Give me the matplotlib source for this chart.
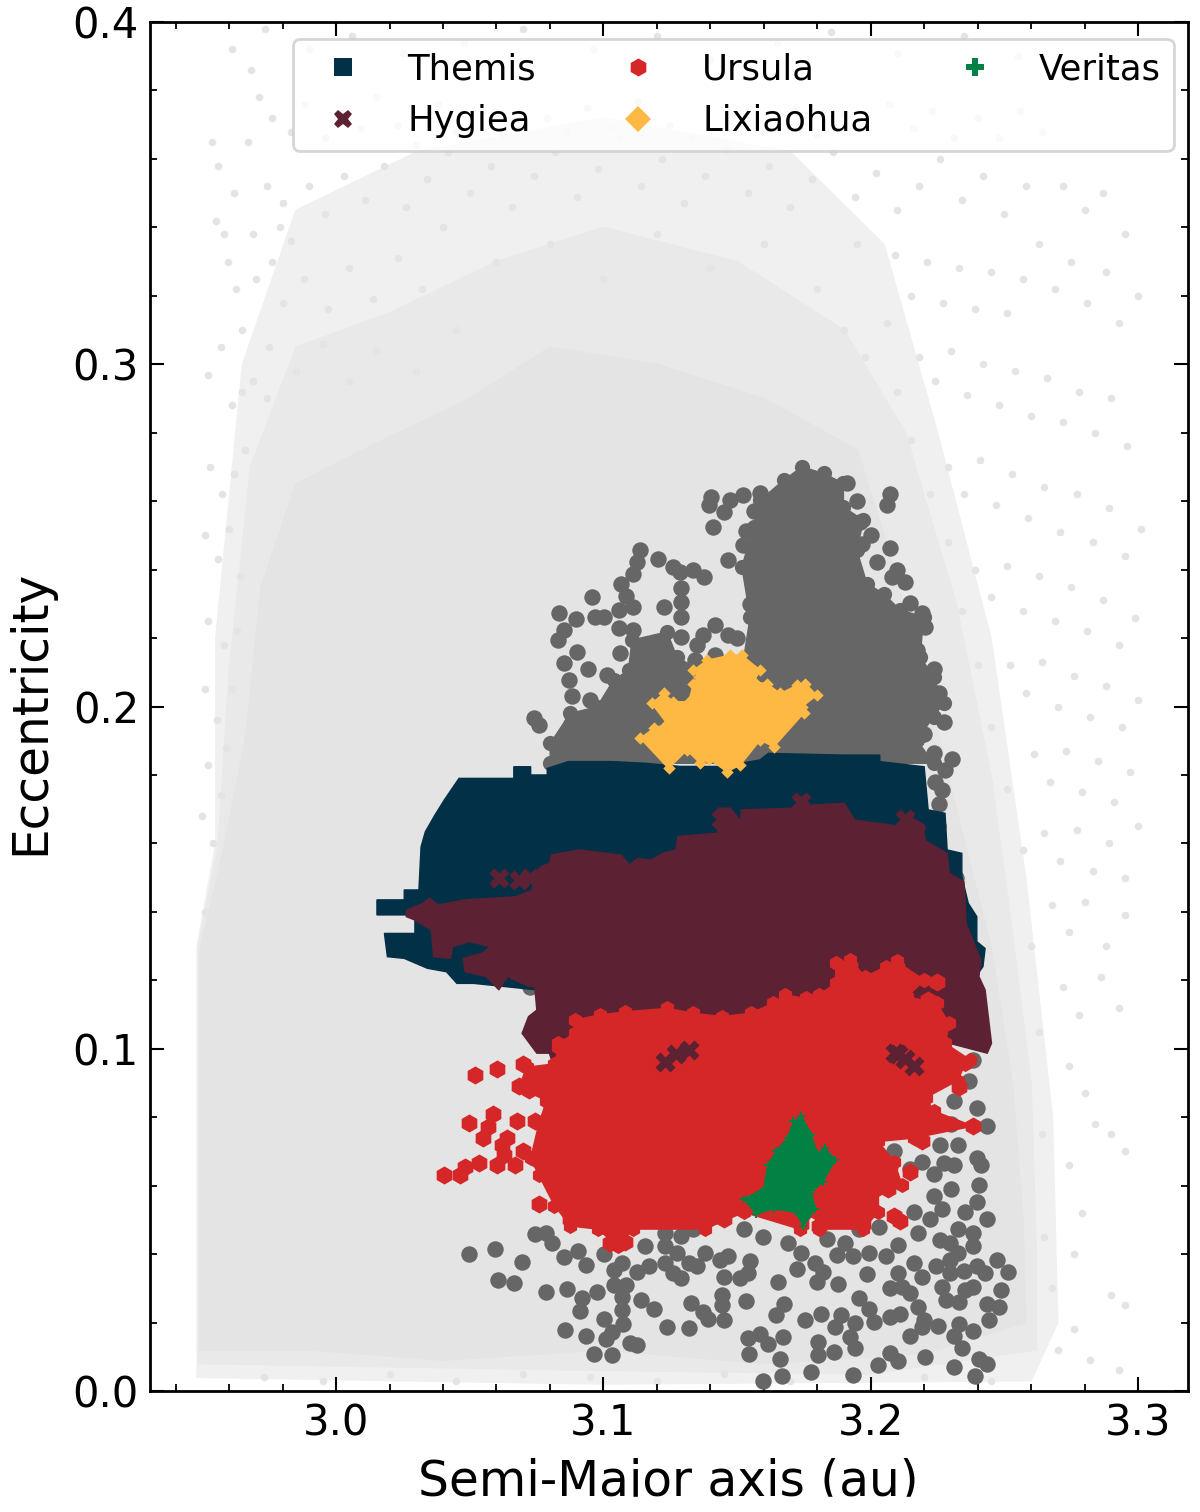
import matplotlib
matplotlib.use('Agg')
import matplotlib.pyplot as plt
from matplotlib.lines import Line2D
from matplotlib.patches import Rectangle
from matplotlib.ticker import MultipleLocator

# colours
c_bg = '#e4e4e4'
c_mid = '#e9e9e9'
c_halo = '#f0f0f0'
c_grey = '#666666'
c_themis = '#023047'
c_hygiea = '#5c2133'
c_ursula = '#d62728'
c_lixiaohua = '#fdb944'
c_veritas = '#028144'

# main belt background: dense core, middle band and thinner halo outlines (a, e)
bg_core = [(2.9491,0.012),(2.9491,0.129),(2.957,0.155),(2.966,0.19),(2.972,0.235),(2.985,0.265),(3.01,0.275),
           (3.05,0.29),(3.08,0.305),(3.12,0.30),(3.16,0.29),(3.195,0.275),(3.205,0.25),(3.22,0.21),(3.232,0.17),
           (3.245,0.13),(3.253,0.09),(3.257,0.05),(3.258,0.02),(3.22,0.011),(3.16,0.008),(3.10,0.012),(3.04,0.009),(2.99,0.012)]
bg_mid = [(2.9485,0.008),(2.9485,0.13),(2.956,0.16),(2.96,0.21),(2.968,0.27),(2.985,0.305),(3.02,0.315),(3.06,0.33),
          (3.10,0.34),(3.15,0.33),(3.19,0.31),(3.213,0.28),(3.232,0.23),(3.245,0.18),(3.252,0.14),(3.26,0.09),
          (3.262,0.04),(3.262,0.012),(3.2,0.005),(3.1,0.006)]
bg_halo = [(2.948,0.004),(2.948,0.13),(2.955,0.16),(2.955,0.22),(2.965,0.30),(2.985,0.345),(3.03,0.362),(3.10,0.372),
           (3.17,0.362),(3.205,0.335),(3.225,0.28),(3.245,0.22),(3.258,0.15),(3.268,0.08),(3.27,0.02),(3.26,0.003),(3.1,0.002)]

# scattered background asteroids, estimated by eye
bg_dots = [(2.9536,0.365),(2.9560,0.358),(2.9612,0.392),(2.9680,0.386),(2.9550,0.342),(2.9596,0.330),(2.9625,0.322),
    (2.9570,0.305),(2.9520,0.297),(2.9610,0.288),(2.9650,0.292),(2.9530,0.270),(2.9575,0.262),(2.9620,0.268),
    (2.9510,0.250),(2.9560,0.243),(2.9600,0.252),(2.9640,0.238),(2.9520,0.225),(2.9580,0.218),(2.9510,0.205),
    (2.9555,0.196),(2.9610,0.205),(2.9520,0.183),(2.9570,0.174),(2.9500,0.168),(2.9540,0.160),(2.9590,0.188),
    (2.9735,0.398),(2.9900,0.392),(3.0060,0.396),(3.0250,0.391),(3.0480,0.394),(3.0700,0.398),(3.0960,0.392),
    (3.1200,0.396),(3.1400,0.389),(3.1650,0.394),(3.1850,0.397),(3.2100,0.391),(3.2350,0.396),(3.2550,0.390),
    (2.9710,0.378),(2.9670,0.365),(2.9740,0.352),(2.9800,0.347),(2.9690,0.338),(2.9760,0.330),(2.9830,0.336),
    (2.9900,0.352),(2.9960,0.344),(3.0030,0.355),(3.0110,0.348),(3.0180,0.358),(3.0260,0.346),(3.0340,0.354),
    (3.0420,0.362),(3.0500,0.350),(3.0580,0.358),(3.0660,0.346),(3.0740,0.355),(3.0820,0.362),(3.0900,0.349),
    (3.0980,0.357),(3.1060,0.366),(3.1140,0.352),(3.1220,0.360),(3.1300,0.347),(3.1380,0.355),(3.1460,0.363),
    (3.1540,0.350),(3.1620,0.358),(3.1700,0.346),(3.1780,0.354),(3.1860,0.362),(3.1940,0.349),(3.2020,0.356),
    (3.2100,0.345),(3.2180,0.352),(3.2260,0.360),(3.2340,0.348),(3.2420,0.355),(3.2500,0.344),(3.2580,0.352),
    (3.2090,0.332),(3.2150,0.320),(3.2210,0.330),(3.2270,0.318),(3.2330,0.328),(3.2390,0.316),(3.2450,0.327),
    (3.2510,0.315),(3.2570,0.325),(3.2630,0.335),(3.2690,0.322),(3.2750,0.330),(3.2810,0.318),(3.2880,0.327),
    (3.2930,0.312),(3.3000,0.320),(3.2180,0.302),(3.2240,0.295),(3.2300,0.304),(3.2360,0.291),(3.2420,0.300),
    (3.2480,0.288),(3.2540,0.298),(3.2600,0.285),(3.2660,0.296),(3.2720,0.283),(3.2780,0.292),(3.2840,0.280),
    (3.2900,0.290),(3.2960,0.276),(3.2290,0.270),(3.2350,0.262),(3.2410,0.272),(3.2470,0.259),(3.2530,0.268),
    (3.2590,0.255),(3.2650,0.264),(3.2710,0.251),(3.2770,0.262),(3.2830,0.248),(3.2890,0.258),(3.2950,0.244),
    (3.3010,0.252),(3.2390,0.240),(3.2450,0.232),(3.2510,0.241),(3.2570,0.228),(3.2630,0.238),(3.2690,0.225),
    (3.2750,0.235),(3.2810,0.222),(3.2870,0.231),(3.2930,0.218),(3.2990,0.226),(3.2520,0.212),(3.2580,0.204),
    (3.2640,0.213),(3.2700,0.200),(3.2760,0.209),(3.2820,0.197),(3.2880,0.206),(3.2940,0.194),(3.3000,0.202),
    (3.2610,0.186),(3.2670,0.178),(3.2730,0.187),(3.2790,0.175),(3.2850,0.184),(3.2910,0.172),(3.2970,0.181),
    (3.2650,0.163),(3.2710,0.155),(3.2770,0.164),(3.2830,0.152),(3.2890,0.160),(3.2950,0.150),(3.3000,0.165),
    (3.2680,0.142),(3.2740,0.134),(3.2800,0.143),(3.2880,0.130),(3.2950,0.139),(3.2720,0.118),(3.2780,0.110),
    (3.2860,0.121),(3.2930,0.112),(3.2740,0.095),(3.2800,0.087),(3.2840,0.078),(3.2900,0.075),(3.2950,0.070),
    (3.2740,0.066),(3.2790,0.052),(3.2760,0.040),(3.2900,0.028),(3.2950,0.025),(3.2760,0.018),(3.2820,0.009),
    (3.2930,0.006),(3.2700,0.012),(2.9730,0.004),(2.9950,0.003),(3.0200,0.005),(3.0450,0.003),(3.0700,0.005),
    (3.0950,0.004),(3.1200,0.003),(3.1450,0.005),(3.1700,0.003),(3.1950,0.005),(3.2200,0.004),(3.2450,0.003),
    (2.9800,0.318),(2.9880,0.325),(2.9970,0.316),(3.0050,0.328),(3.0140,0.319),(3.0230,0.331),(3.0320,0.322),
    (2.9750,0.305),(2.9850,0.298),(2.9950,0.306),(3.0050,0.295),(3.0150,0.304),(3.0300,0.298),(3.0450,0.310),
    (3.1900,0.310),(3.1980,0.302),(3.2060,0.312),(3.2100,0.292),(3.2150,0.278),(3.2220,0.262),(3.2290,0.248),
    (3.2340,0.228),(3.2400,0.212),(3.2450,0.194),(3.2510,0.176),(3.2570,0.158),(3.2600,0.130),(3.2630,0.105),
    (3.2640,0.075),(3.2650,0.045),(3.2680,0.030),
    (2.9760,0.372),(2.9830,0.368),(2.9880,0.376),(2.9960,0.366),(3.0020,0.373),(3.0090,0.369),(3.0150,0.378),
    (3.0230,0.370),(3.0300,0.364),(3.0380,0.376),(3.0450,0.368),(3.0550,0.374),(3.0620,0.367),(3.0790,0.372),
    (3.0860,0.368),(3.0940,0.375),(3.1030,0.369),(3.1130,0.377),(3.1250,0.370),(3.1330,0.366),(3.1520,0.372),
    (3.1600,0.368),(3.1720,0.375),(3.1800,0.367),(3.1900,0.373),(3.1990,0.368),(3.2070,0.376),(3.2160,0.369),
    (3.2230,0.374),(3.2310,0.366),(3.2400,0.372),(3.2480,0.366),(3.2560,0.374),(3.2640,0.368),(3.2720,0.352),
    (3.2800,0.345),(3.2870,0.350),(3.2950,0.338),(2.9620,0.350),(2.9580,0.338),(2.9650,0.310),(2.9690,0.295),
    (2.9660,0.275),(2.9630,0.222),(2.9640,0.170),(2.9600,0.150),(2.9570,0.137),(2.9510,0.140),(2.9700,0.325),
    (2.9740,0.290),(2.9790,0.340),(3.0400,0.340),(3.0600,0.330),(3.0800,0.335),(3.1000,0.325),(3.1200,0.338),
    (3.1400,0.328),(3.1600,0.335),(3.1800,0.322),(3.1950,0.335)]

# dark grey family: dense body outline and the separate points around it
grey_body = [(3.1674,0.2661),(3.1743,0.2700),(3.1824,0.2681),(3.1898,0.2652),(3.1898,0.2583),(3.1973,0.2544),(3.1948,0.2457),
    (3.1986,0.2359),(3.2048,0.2330),(3.2110,0.2282),(3.2198,0.2262),(3.2185,0.2145),(3.2235,0.2087),(3.2273,0.2009),
    (3.2235,0.1970),(3.2173,0.1902),(3.2235,0.1834),(3.0801,0.1834),(3.0801,0.1892),(3.0876,0.1980),(3.0976,0.1999),
    (3.1038,0.2077),(3.1094,0.2106),(3.1107,0.2194),(3.1238,0.2218),(3.1275,0.2145),(3.1337,0.2116),(3.1524,0.2135),
    (3.1549,0.2262),(3.1518,0.2408),(3.1562,0.2525),(3.1587,0.2603)]
grey_dots = [(3.1402,0.2613),(3.1397,0.2588),(3.1452,0.2569),(3.1474,0.2603),(3.1522,0.2619),(3.1587,0.2624),(3.1562,0.2571),
    (3.1410,0.2525),(3.1534,0.2512),(3.1522,0.2471),(3.1466,0.2428),(3.2073,0.2622),(3.2061,0.2588),(3.2073,0.2464),
    (3.2023,0.2423),(3.1967,0.2476),(3.1911,0.2654),(3.1961,0.2540),(3.2129,0.2364),(3.2079,0.2379),(3.2148,0.2301),
    (3.2191,0.2272),(3.2204,0.2233),(3.2173,0.2165),(3.2235,0.2111),(3.2254,0.2038),(3.2273,0.1955),(3.2304,0.1848),
    (3.2235,0.1863),(3.2279,0.1814),(3.2241,0.1780),(3.1138,0.2457),(3.1125,0.2423),(3.1109,0.2387),(3.1203,0.2432),
    (3.1260,0.2408),(3.1285,0.2393),(3.1335,0.2400),(3.1377,0.2379),(3.1065,0.2359),(3.1085,0.2322),(3.1110,0.2291),
    (3.1059,0.2281),(3.0959,0.2320),(3.0835,0.2272),(3.0897,0.2257),(3.0969,0.2262),(3.1001,0.2262),(3.1228,0.2291),
    (3.1291,0.2345),(3.1291,0.2306),(3.1291,0.2262),(3.1291,0.2204),(3.1416,0.2238),(3.1371,0.2208),(3.1350,0.2179),
    (3.1466,0.2208),(3.1059,0.2228),(3.1110,0.2223),(3.0853,0.2223),(3.0832,0.2194),(3.0901,0.2160),(3.0851,0.2126),
    (3.0941,0.2111),(3.0870,0.2077),(3.0882,0.2030),(3.1013,0.2092),(3.0739,0.1965),(3.0760,0.1946),(3.1418,0.2150),
    (3.1344,0.2135),(3.1063,0.2155),(3.1163,0.2165),(3.2265,0.1755),(3.2255,0.1715),(3.2250,0.1650),(3.2320,0.1500),
    (3.0725,0.1180),
    (3.0499,0.0401),(3.0595,0.0416),(3.0695,0.0377),(3.0607,0.0323),(3.0664,0.0317),(3.0787,0.0288),(3.0864,0.0298),
    (3.0920,0.0272),(3.0913,0.0233),(3.0978,0.0288),(3.1002,0.0209),(3.0858,0.0178),(3.0935,0.0162),(3.0965,0.0109),
    (3.1034,0.0104),(3.1009,0.0152),(3.1034,0.0171),(3.1098,0.0139),(3.1127,0.0134),(3.1075,0.0196),(3.1068,0.0236),
    (3.1068,0.0275),(3.1039,0.0310),(3.1083,0.0310),(3.1039,0.0354),(3.1068,0.0374),(3.1002,0.0399),(3.0905,0.0408),
    (3.0935,0.0369),(3.0851,0.0392),(3.0743,0.0458),(3.0809,0.0431),(3.0787,0.0463),(3.1139,0.0265),(3.1190,0.0239),
    (3.1238,0.0186),(3.1320,0.0184),(3.1327,0.0258),(3.1371,0.0230),(3.1393,0.0211),(3.1453,0.0208),(3.1445,0.0280),
    (3.1445,0.0250),(3.1534,0.0262),(3.1127,0.0349),(3.1172,0.0364),(3.1231,0.0374),(3.1260,0.0344),(3.1290,0.0330),
    (3.1320,0.0374),(3.1379,0.0403),(3.1350,0.0364),(3.1275,0.0403),(3.1231,0.0463),(3.1290,0.0453),(3.1334,0.0473),
    (3.1157,0.0423),(3.1231,0.0423),(3.1438,0.0384),(3.1467,0.0394),(3.1453,0.0334),(3.1512,0.0329),(3.1550,0.0379),
    (3.1542,0.0344),(3.1527,0.0473),(3.1596,0.0451),(3.1652,0.0319),(3.1689,0.0433),(3.1741,0.0403),(3.1726,0.0356),
    (3.1793,0.0374),(3.1822,0.0349),(3.1800,0.0319),(3.1878,0.0313),(3.1645,0.0221),(3.1674,0.0255),(3.1756,0.0208),
    (3.1815,0.0226),(3.1889,0.0221),(3.1867,0.0186),(3.1941,0.0198),(3.1541,0.0155),(3.1586,0.0167),(3.1615,0.0137),
    (3.1671,0.0159),(3.1546,0.0109),(3.1660,0.0093),(3.1667,0.0045),(3.1596,0.0030),(3.1778,0.0055),(3.1804,0.0142),
    (3.1804,0.0105),(3.1864,0.0115),(3.1923,0.0159),(3.1941,0.0125),(3.1933,0.0046),(3.2029,0.0075),(3.2074,0.0112),
    (3.2103,0.0088),(3.2204,0.0100),(3.2310,0.0070),(3.2392,0.0045),(3.2406,0.0093),(3.2436,0.0080),(3.2340,0.0127),
    (3.2310,0.0162),(3.2147,0.0162),(3.2192,0.0186),(3.2251,0.0191),(3.2332,0.0196),(3.2384,0.0176),(3.2443,0.0206),
    (3.2480,0.0246),(3.2436,0.0255),(3.2488,0.0295),(3.2513,0.0347),(3.2473,0.0384),(3.2428,0.0344),(3.2384,0.0305),
    (3.2398,0.0364),(3.2354,0.0295),(3.2295,0.0433),(3.2325,0.0403),(3.2384,0.0423),(3.2295,0.0384),(3.2280,0.0265),
    (3.2265,0.0305),(3.2295,0.0344),(3.2244,0.0364),(3.2162,0.0374),(3.2192,0.0334),(3.2147,0.0285),(3.2177,0.0245),
    (3.2199,0.0206),(3.2103,0.0344),(3.2074,0.0300),(3.2118,0.0305),(3.1955,0.0273),(3.1992,0.0241),(3.2014,0.0201),
    (3.2074,0.0216),(3.2111,0.0226),(3.1985,0.0342),(3.1874,0.0396),(3.1903,0.0433),(3.1933,0.0394),(3.1992,0.0403),
    (3.2059,0.0394),(3.2103,0.0428),(3.1837,0.0445),(3.2177,0.0463),(3.2162,0.0522),(3.2236,0.0571),(3.2266,0.0532),
    (3.2221,0.0502),(3.2325,0.0473),(3.2384,0.0463),(3.2399,0.0552),(3.2436,0.0502),(3.2354,0.0522),(3.2406,0.0601),
    (3.2399,0.0680),(3.2310,0.0660),(3.2273,0.0665),(3.2236,0.0635),(3.2192,0.0670),(3.2147,0.0650),(3.2088,0.0700),
    (3.2147,0.0759),(3.2325,0.0719),(3.2436,0.0774),(3.2399,0.0828),(3.2310,0.0848),(3.2369,0.0907),(3.2384,0.0966),
    (3.2414,0.0660),(3.1896,0.0621),(3.1955,0.0473),(3.2030,0.0480),(3.2260,0.0440),(3.2350,0.0350),(3.2330,0.0260),
    (3.2300,0.0590),(3.2260,0.0720),(3.2240,0.0790),(3.2300,0.0780),(3.2180,0.0820),
    (3.2150,0.2250),(3.2100,0.2400),(3.2000,0.2500),(3.1950,0.2600),(3.1550,0.2300),(3.1500,0.2200),(3.1200,0.2180),
    (3.1150,0.2120),(3.1050,0.2050),(3.0950,0.2020),(3.0880,0.1950),(3.0830,0.1880),(3.2200,0.1920),(3.2220,0.2030)]

themis_outline = [(3.0153,0.1435),(3.0255,0.1435),(3.0255,0.1464),(3.0310,0.1464),(3.0318,0.1590),(3.0334,0.1634),(3.0370,0.1683),
    (3.0405,0.1727),(3.0460,0.1790),(3.0665,0.1790),(3.0665,0.1824),(3.0728,0.1824),(3.0728,0.1800),(3.0790,0.1800),
    (3.0790,0.1819),(3.0869,0.1839),(3.1035,0.1839),(3.1160,0.1834),(3.1287,0.1825),(3.1450,0.1825),(3.1586,0.1844),(3.1617,0.1863),
    (3.1900,0.1858),(3.2034,0.1858),(3.2034,0.1839),(3.2200,0.1824),(3.2215,0.1698),(3.2278,0.1688),(3.2286,0.1581),
    (3.2341,0.1571),(3.2341,0.1503),(3.2365,0.1425),(3.2397,0.1386),(3.2397,0.1313),(3.2428,0.1293),(3.2420,0.1240),
    (3.2357,0.1172),(3.0751,0.1172),(3.0515,0.1191),(3.0452,0.1191),(3.0413,0.1225),(3.0342,0.1235),(3.0255,0.1264),
    (3.0192,0.1269),(3.0181,0.1337),(3.0295,0.1337),(3.0295,0.1391),(3.0153,0.1391)]

hygiea_outline = [(3.0263,0.1405),(3.0326,0.1425),(3.0350,0.1440),(3.0381,0.1420),(3.0483,0.1435),(3.0672,0.1444),(3.0735,0.1464),
    (3.0735,0.1503),(3.0767,0.1532),(3.0799,0.1542),(3.0806,0.1566),(3.0909,0.1581),(3.1066,0.1566),(3.1098,0.1537),
    (3.1129,0.1556),(3.1176,0.1551),(3.1224,0.1571),(3.1271,0.1581),(3.1279,0.1620),(3.1428,0.1630),(3.1428,0.1703),
    (3.1475,0.1703),(3.1515,0.1664),(3.1515,0.1698),(3.1712,0.1703),(3.1743,0.1737),(3.1775,0.1712),(3.1901,0.1717),
    (3.1940,0.1668),(3.2121,0.1649),(3.2137,0.1683),(3.2200,0.1654),(3.2200,0.1610),(3.2286,0.1571),(3.2294,0.1513),
    (3.2349,0.1488),(3.2357,0.1366),(3.2412,0.1259),(3.2405,0.1211),(3.2428,0.1172),(3.2452,0.1016),(3.2436,0.0987),
    (3.2294,0.1016),(3.2294,0.0948),(3.0814,0.0948),(3.0798,0.0987),(3.0751,0.0987),(3.0696,0.1045),(3.0720,0.1094),
    (3.0751,0.1113),(3.0743,0.1182),(3.0720,0.1182),(3.0641,0.1211),(3.0609,0.1172),(3.0562,0.1211),(3.0483,0.1225),
    (3.0476,0.1264),(3.0546,0.1279),(3.0578,0.1298),(3.0499,0.1313),(3.0436,0.1298),(3.0428,0.1264),(3.0365,0.1269),
    (3.0357,0.1347),(3.0295,0.1376),(3.0263,0.1386)]
hygiea_dots = [(3.0609,0.1498),(3.0685,0.1493),(3.0725,0.1500),(3.1440,0.1670),(3.1740,0.1720),(3.2130,0.1670),(3.2170,0.1630)]
# hygiea showing through gaps in ursula
hygiea_gaps = [(3.1231,0.0961),(3.1270,0.0985),(3.1319,0.0996),(3.2103,0.0986),(3.2130,0.0970),(3.2162,0.0951),(3.2090,0.0987)]

ursula_outline = [(3.0830,0.1016),(3.0893,0.1045),(3.0893,0.1084),(3.0987,0.1099),(3.1082,0.1108),(3.1239,0.1118),(3.1334,0.1104),
    (3.1444,0.1094),(3.1554,0.1104),(3.1633,0.1133),(3.1680,0.1157),(3.1759,0.1147),(3.1806,0.1157),(3.1869,0.1191),
    (3.1869,0.1250),(3.1924,0.1259),(3.1979,0.1211),(3.2058,0.1240),(3.2097,0.1255),(3.2200,0.1201),(3.2137,0.1152),
    (3.2247,0.1133),(3.2294,0.1074),(3.2279,0.1016),(3.2373,0.0967),(3.2354,0.0956),(3.2325,0.0907),(3.2207,0.0857),
    (3.2236,0.0818),(3.2384,0.0774),(3.2162,0.0739),(3.2029,0.0729),(3.2088,0.0670),(3.2118,0.0601),(3.2029,0.0591),
    (3.2029,0.0522),(3.1970,0.0473),(3.1807,0.0473),(3.1793,0.0522),(3.1734,0.0473),(3.1526,0.0522),(3.1379,0.0473),
    (3.1112,0.0473),(3.1053,0.0423),(3.0979,0.0473),(3.0876,0.0482),(3.0817,0.0542),(3.0758,0.0631),(3.0728,0.0680),
    (3.0758,0.0779),(3.0787,0.0848),(3.0684,0.0887),(3.0713,0.0946),(3.0817,0.0956),(3.0832,0.1006)]
ursula_dots = [(3.0521,0.0922),(3.0602,0.0941),(3.0698,0.0956),(3.0684,0.0892),(3.0499,0.0784),(3.0588,0.0808),(3.0676,0.0788),
    (3.0743,0.0788),(3.0551,0.0739),(3.0639,0.0739),(3.0602,0.0660),(3.0669,0.0660),(3.0403,0.0631),(3.0462,0.0631),
    (3.0484,0.0655),(3.0536,0.0665),(3.0758,0.0547),(3.0876,0.0502),(3.1024,0.0433),(3.1080,0.0436),(3.2147,0.0640),
    (3.2074,0.0660),(3.2066,0.0591),(3.2088,0.0512),(3.2111,0.0497),(3.2384,0.0774),(3.2332,0.0887),(3.2192,0.0729),
    (3.1741,0.0487),(3.1807,0.0482),(3.1970,0.0487),(3.1867,0.0522),(3.1453,0.0502),(3.1379,0.0497),(3.2247,0.1195),
    (3.2097,0.1235),(3.1924,0.1240),(3.0925,0.1064),(3.2216,0.1142),(3.0570,0.0770),(3.0620,0.0720),(3.0700,0.0700),
    (3.0740,0.0680),(3.0630,0.0690),(3.0720,0.0880),(3.0770,0.0920)]

lixiaohua_outline = [(3.1138,0.1907),(3.1188,0.1936),(3.1238,0.1950),(3.1181,0.2009),(3.1225,0.2038),(3.1262,0.2014),(3.1319,0.2014),
    (3.1337,0.2067),(3.1356,0.2087),(3.1337,0.2106),(3.1387,0.2135),(3.1474,0.2150),(3.1518,0.2150),(3.1587,0.2106),
    (3.1562,0.2072),(3.1612,0.2067),(3.1662,0.2038),(3.1724,0.2062),(3.1755,0.2067),(3.1799,0.2033),(3.1743,0.1999),
    (3.1749,0.1980),(3.1637,0.1882),(3.1587,0.1902),(3.1512,0.1829),(3.1462,0.1809),(3.1394,0.1848),(3.1362,0.1834),
    (3.1312,0.1872),(3.1244,0.1819)]

veritas_outline = [(3.1741,0.0803),(3.1778,0.0749),(3.1800,0.0695),(3.1830,0.0710),(3.1867,0.0675),(3.1822,0.0611),(3.1778,0.0581),
    (3.1793,0.0532),(3.1748,0.0482),(3.1719,0.0522),(3.1637,0.0532),(3.1571,0.0517),(3.1526,0.0561),(3.1600,0.0591),
    (3.1615,0.0660),(3.1645,0.0700),(3.1689,0.0739),(3.1711,0.0788)]

x_ticks = [3.0, 3.1, 3.2, 3.3]
y_ticks = [0.0, 0.1, 0.2, 0.3, 0.4]
families = ['Themis', 'Hygiea', 'Ursula', 'Lixiaohua', 'Veritas']


def fill_region(ax, pts, color, z):
    a, e = zip(*pts)
    ax.fill(a, e, color=color, lw=1, zorder=z)


def dots(ax, pts, color, s, z, marker='o'):
    a, e = zip(*pts)
    ax.scatter(a, e, s=s, c=color, marker=marker, linewidths=0, zorder=z)


fig = plt.figure(figsize=(12, 15.12), dpi=100)
ax = fig.add_axes([150/1200, 1-1391/1512, 1038/1200, 1369/1512])

fill_region(ax, bg_halo, c_halo, 1)
fill_region(ax, bg_mid, c_mid, 1.05)
fill_region(ax, bg_core, c_bg, 1.2)
dots(ax, bg_dots, c_bg, 30, 1.1)

fill_region(ax, grey_body, c_grey, 2)
dots(ax, grey_body, c_grey, 120, 2)
dots(ax, grey_dots, c_grey, 140, 2)
fill_region(ax, themis_outline, c_themis, 3)
fill_region(ax, hygiea_outline, c_hygiea, 4)
dots(ax, hygiea_dots, c_hygiea, 210, 4, marker='X')
fill_region(ax, ursula_outline, c_ursula, 5)
dots(ax, ursula_outline, c_ursula, 120, 5, marker='h')
dots(ax, ursula_dots, c_ursula, 170, 5, marker='h')
dots(ax, hygiea_gaps, c_hygiea, 210, 5.5, marker='X')
fill_region(ax, lixiaohua_outline, c_lixiaohua, 6)
dots(ax, lixiaohua_outline, c_lixiaohua, 40, 6, marker='D')
fill_region(ax, veritas_outline, c_veritas, 7)
dots(ax, veritas_outline, c_veritas, 40, 7, marker='P')

ax.set_xlim(2.9304, 3.3187)
ax.set_ylim(0, 0.4)
ax.set_xticks(x_ticks)
ax.set_yticks(y_ticks)
ax.xaxis.set_minor_locator(MultipleLocator(0.02))
ax.yaxis.set_minor_locator(MultipleLocator(0.02))
ax.tick_params(which='both', direction='in', top=True, right=True, zorder=10)
ax.tick_params(which='major', length=10, width=1.5, labelsize=30, pad=8)
ax.tick_params(which='minor', length=5, width=1.3)
for sp in ax.spines.values():
    sp.set_linewidth(2)
    sp.set_zorder(12)

ax.set_xlabel('Semi-Major axis (au)', fontsize=35)
ax.set_ylabel('Eccentricity', fontsize=35)
ax.xaxis.set_label_coords(0.499, -0.049)
ax.yaxis.set_label_coords(-0.0925, 0.496)

markers = ['s', 'X', 'h', 'D', 'P']
colors = [c_themis, c_hygiea, c_ursula, c_lixiaohua, c_veritas]
handles = [Line2D([], [], ls='', marker=m, color=c, markersize=13, markeredgewidth=0) for m, c in zip(markers, colors)]
leg = ax.legend(handles, families, ncol=3, loc='upper left', bbox_to_anchor=(0.1208, 1.0003), fontsize=25.5,
                framealpha=0.8, edgecolor='#cccccc', fancybox=True, handletextpad=0.745, columnspacing=1.84,
                labelspacing=0.5, borderpad=0.365, handlelength=2.11)
leg.get_frame().set_linewidth(2)
leg.set_zorder(20)

# the reference image cuts the x label off near its bottom edge
fig.add_artist(Rectangle((0, 0), 1, 15/1512, transform=fig.transFigure, color='white', zorder=30))

fig.savefig('out.png', dpi=100)
